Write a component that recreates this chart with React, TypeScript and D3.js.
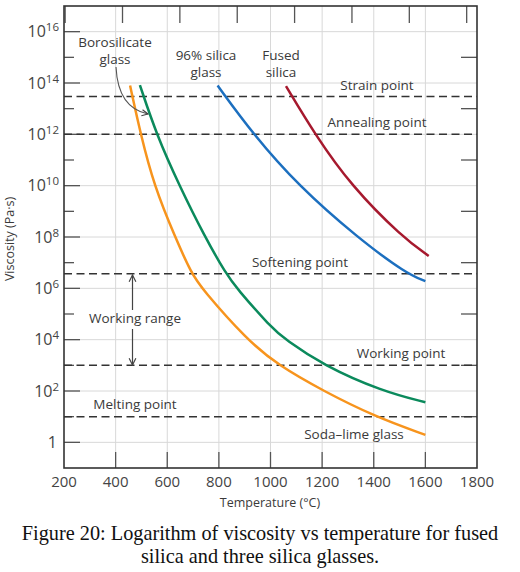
import * as d3 from 'd3';

// temperatures in °C, viscosities as log10(Pa·s)
const sodaLimeT = [456, 497, 549, 630, 695, 733, 908, 1030, 1205, 1405, 1600];
const sodaLimeLogV = [13.9, 12, 10, 8, 6.56, 6, 4, 3, 2, 1, 0.29];

const borosilicateT = [494, 558, 647, 746, 828, 869, 1000, 1058, 1205, 1430, 1600];
const borosilicateLogV = [13.92, 12, 10, 8, 6.56, 6, 4.5, 4, 3, 2, 1.56];

const silica96T = [795, 933, 1108, 1334, 1528, 1600];
const silica96LogV = [13.9, 12, 10, 8, 6.56, 6.28];

const fusedSilicaT = [1060, 1172, 1312, 1510, 1613];
const fusedSilicaLogV = [13.88, 12, 10, 8, 7.26];

const pointNames = ['Strain point', 'Annealing point', 'Softening point', 'Working point', 'Melting point'];
const pointViscosity = [3e13, 1e12, 3.7e6, 1e3, 1e1];

const tempTicks = [200, 400, 600, 800, 1000, 1200, 1400, 1600, 1800];
const fahrenheitTicks = [400, 800, 1200, 1600, 2000, 2400, 2800, 3200];
const majorExponents = [0, 2, 4, 6, 8, 10, 12, 14, 16];
const minorExponents = [1, 3, 5, 7, 9, 11, 13, 15];
const rightExponents = [1, 3, 5, 7, 9, 11, 13, 15];

const W = 520;
const H = 572;
const ml = 64, mr = 477, mt = 6, mb = 468;
const ink = '#3a3a3a';
const sans = '"Open Sans", "Noto Sans", sans-serif';
const serif = '"Liberation Serif", "Times New Roman", serif';

export default function App() {
  const x = d3.scaleLinear().domain([200, 1800]).range([ml, mr]);
  const y = d3.scaleLog().domain([1e-1, 1e17]).range([mb, mt]);

  const line = d3.line<[number, number]>()
    .x(d => x(d[0]))
    .y(d => y(Math.pow(10, d[1])))
    .curve(d3.curveBasis);

  const series = [
    { t: sodaLimeT, v: sodaLimeLogV, color: '#f7941d' },
    { t: borosilicateT, v: borosilicateLogV, color: '#0b8a5c' },
    { t: silica96T, v: silica96LogV, color: '#1c6fbf' },
    { t: fusedSilicaT, v: fusedSilicaLogV, color: '#a6192e' },
  ];

  const fToC = (f: number) => (f - 32) * 5 / 9;
  const label = (txt: string, cx: number, by: number) => (
    <text x={cx} y={by} textAnchor="middle" fontSize={13.5} fill={ink} fontFamily={sans}>{txt}</text>
  );

  return (
    <div style={{ position: 'absolute', left: 0, top: 0 }}>
      <svg width={W} height={H} viewBox={`0 0 ${W} ${H}`} style={{ display: 'block', background: '#fff' }}>
        <defs>
          <marker id="arr" viewBox="0 0 10 10" refX="9" refY="5" markerWidth="7" markerHeight="7" orient="auto">
            <path d="M1,1 L9,5 L1,9" fill="none" stroke="#444" strokeWidth={1.4} />
          </marker>
        </defs>

        {/* grid */}
        <g stroke="#d8d8d8" strokeWidth={1}>
          {tempTicks.slice(1, -1).map(t => (
            <line key={'gx' + t} x1={x(t)} x2={x(t)} y1={mt} y2={mb} />
          ))}
          {majorExponents.map(e => (
            <line key={'gy' + e} x1={ml} x2={mr} y1={y(Math.pow(10, e))} y2={y(Math.pow(10, e))} />
          ))}
        </g>

        {/* ticks */}
        <g stroke="#555" strokeWidth={1.3}>
          {tempTicks.slice(1, -1).map(t => (
            <line key={'bt' + t} x1={x(t)} x2={x(t)} y1={mb} y2={mb - 16} />
          ))}
          {fahrenheitTicks.map(f => (
            <line key={'tt' + f} x1={x(fToC(f))} x2={x(fToC(f))} y1={mt} y2={mt + 17} />
          ))}
          {majorExponents.map(e => (
            <line key={'lt' + e} x1={ml} x2={ml + 16} y1={y(Math.pow(10, e))} y2={y(Math.pow(10, e))} />
          ))}
          {minorExponents.map(e => (
            <line key={'lm' + e} x1={ml} x2={ml + 10} y1={y(Math.pow(10, e))} y2={y(Math.pow(10, e))} />
          ))}
          {rightExponents.map(e => (
            <line key={'rt' + e} x1={mr} x2={mr - 16} y1={y(Math.pow(10, e))} y2={y(Math.pow(10, e))} />
          ))}
        </g>

        {/* reference viscosity levels */}
        <g stroke="#333" strokeWidth={1.5} strokeDasharray="8,4.5">
          {pointViscosity.map((v, i) => (
            <line key={pointNames[i]} x1={ml} x2={mr} y1={y(v)} y2={y(v)} />
          ))}
        </g>

        {/* curves */}
        {series.map((s, i) => (
          <path key={i} d={line(s.t.map((t, j) => [t, s.v[j]] as [number, number])) || ''}
            fill="none" stroke={s.color} strokeWidth={2.5} />
        ))}

        {/* frame */}
        <rect x={ml} y={mt} width={mr - ml} height={mb - mt} fill="none" stroke="#333" strokeWidth={1.6} />

        {/* annotations */}
        {label('Borosilicate', 115, 46.5)}
        {label('glass', 115, 63.5)}
        {label('96% silica', 206, 59.5)}
        {label('glass', 206, 76.5)}
        {label('Fused', 281, 59.5)}
        {label('silica', 281, 76.5)}
        {label(pointNames[0], 377, 90)}
        {label(pointNames[1], 377, 127)}
        {label(pointNames[2], 300, 267)}
        {label(pointNames[3], 401, 358)}
        {label(pointNames[4], 135, 409)}
        {label('Working range', 135, 323)}
        {label('Soda–lime glass', 354, 439)}

        <path d="M116,67 Q118,108 148,114" fill="none" stroke="#555" strokeWidth={1.1} markerEnd="url(#arr)" />
        <line x1={132.5} x2={132.5} y1={310} y2={275} stroke="#444" strokeWidth={1.2} markerEnd="url(#arr)" />
        <line x1={132.5} x2={132.5} y1={329} y2={365} stroke="#444" strokeWidth={1.2} markerEnd="url(#arr)" />

        {/* axis labels */}
        {tempTicks.map(t => (
          <text key={'xl' + t} x={x(t)} y={487} textAnchor="middle" fontSize={15} fill="#444" fontFamily={sans}>{t}</text>
        ))}
        {majorExponents.map(e => (
          e === 0 ? (
            <text key={'yl' + e} x={57} y={y(1) + 5.5} textAnchor="end" fontSize={16} fill="#444" fontFamily={sans}>1</text>
          ) : (
            <text key={'yl' + e} x={59} y={y(Math.pow(10, e)) + 5.5} textAnchor="end" fontSize={16} fill="#444" fontFamily={sans}>
              10<tspan fontSize={11.5} dy={-6}>{e}</tspan>
            </text>
          )
        ))}
        <text x={270} y={507} textAnchor="middle" fontSize={12.5} fill={ink} fontFamily={sans}>Temperature (°C)</text>
        <text transform="translate(14,239) rotate(-90)" textAnchor="middle" fontSize={12.5} fill={ink} fontFamily={sans}>Viscosity (Pa·s)</text>

        {/* caption */}
        <text x={260} y={540} textAnchor="middle" fontSize={20.3} fill="#111" fontFamily={serif}>
          Figure 20: Logarithm of viscosity vs temperature for fused
        </text>
        <text x={260} y={562.5} textAnchor="middle" fontSize={20.3} fill="#111" fontFamily={serif}>
          silica and three silica glasses.
        </text>
      </svg>
    </div>
  );
}
